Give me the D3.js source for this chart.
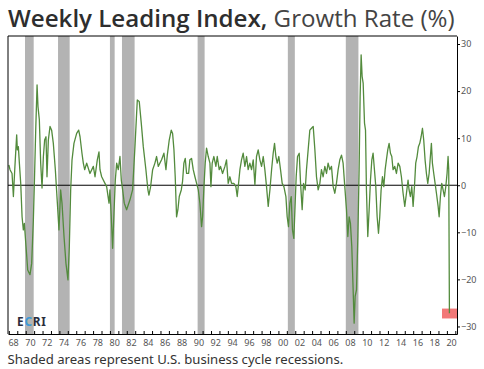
<!DOCTYPE html>
<html>
<head>
<meta charset="utf-8">
<script src="https://cdn.jsdelivr.net/npm/d3@7"></script>
<style>
  body { margin: 0; background: #fff; }
  svg { display: block; }
</style>
</head>
<body>
<script>
// weekly leading index growth rate [decimal year, %]
const wli = [
  [1968.00, 4.3], [1968.14, 3.3], [1968.38, 2.5], [1968.54, -2.4], [1968.70, 3.3], [1968.93, 10.7],
  [1969.01, 7.5], [1969.13, 8.2], [1969.25, 4.7], [1969.41, 0.4], [1969.57, -6.7], [1969.72, -9.5],
  [1969.84, -8.1], [1970.04, -13.0], [1970.24, -18.0], [1970.51, -19.0], [1970.71, -16.6], [1970.91, -7.4],
  [1971.03, 0.4], [1971.19, 11.7], [1971.35, 21.3], [1971.46, 16.7], [1971.62, 13.9], [1971.78, 4.7],
  [1971.94, -0.6], [1972.10, 6.1], [1972.25, 9.6], [1972.41, 10.3], [1972.53, 1.8], [1972.69, 9.6],
  [1972.89, 12.5], [1973.08, 11.7], [1973.28, 8.9], [1973.52, 3.3], [1973.76, -3.8], [1973.95, -9.5],
  [1974.15, -1.0], [1974.31, -3.8], [1974.55, -10.9], [1974.78, -16.6], [1975.02, -20.1], [1975.18, -13.0],
  [1975.34, -1.0], [1975.50, 5.4], [1975.73, 8.9], [1976.05, 11.0], [1976.29, 11.7], [1976.45, 10.3],
  [1976.68, 6.8], [1976.84, 4.7], [1977.00, 3.3], [1977.24, 4.7], [1977.63, 2.5], [1978.03, 4.0],
  [1978.23, 1.8], [1978.50, 5.4], [1978.70, 7.1], [1978.82, 3.3], [1979.02, 1.8], [1979.41, 0.4],
  [1979.61, -0.3], [1979.89, -3.8], [1980.00, -1.0], [1980.16, -6.7], [1980.32, -13.4], [1980.48, -5.9],
  [1980.64, 1.1], [1980.80, 4.7], [1980.99, 3.3], [1981.19, 6.1], [1981.35, 1.1], [1981.51, -1.0],
  [1981.70, -3.8], [1981.98, -5.2], [1982.38, -3.1], [1982.69, -1.0], [1982.97, 8.2], [1983.25, 18.1],
  [1983.48, 17.8], [1983.72, 13.2], [1983.96, 8.2], [1984.27, 3.3], [1984.51, -1.0], [1984.63, -2.1],
  [1984.83, -0.3], [1985.07, 3.3], [1985.34, 4.7], [1985.54, 6.1], [1985.74, 4.0],
  [1986.13, 5.4], [1986.41, 6.8], [1986.65, 3.3], [1986.81, 6.4], [1987.04, 9.6], [1987.28, 11.7],
  [1987.44, 11.0], [1987.60, 7.5], [1987.75, 1.8], [1987.91, -6.7], [1988.07, -5.2], [1988.23, -2.4],
  [1988.47, -1.0], [1988.62, 0.8], [1988.78, 4.7], [1988.94, 5.7], [1989.10, 2.5], [1989.34, 2.5],
  [1989.49, 5.4], [1989.69, 5.7], [1989.89, 3.3], [1990.09, 1.8], [1990.29, 0.4], [1990.49, -1.0],
  [1990.68, -3.8], [1990.88, -8.8], [1991.00, -6.7], [1991.16, -0.3], [1991.31, 4.7], [1991.47, 7.9],
  [1991.67, 6.1], [1991.87, 4.7], [1991.99, -0.3], [1992.14, 4.7], [1992.34, 6.1], [1992.58, 4.0],
  [1992.74, 6.1], [1992.97, 3.3], [1993.13, 4.0], [1993.37, 2.5], [1993.65, 4.0], [1993.84, 5.4],
  [1994.04, 0.4], [1994.24, 1.8], [1994.44, 0.4], [1994.71, 0.4], [1994.95, -0.3], [1995.11, -2.4],
  [1995.27, 0.4], [1995.43, 3.3], [1995.62, 5.4], [1995.82, 6.8], [1996.02, 4.0], [1996.22, 6.1],
  [1996.41, 3.3], [1996.61, 4.7], [1996.81, 3.3], [1997.01, 5.4], [1997.21, 0.1], [1997.40, 6.1],
  [1997.60, 7.5], [1997.80, 5.4], [1998.00, 4.0], [1998.20, 6.1], [1998.39, 3.3], [1998.59, -0.3],
  [1998.79, -4.5], [1998.99, -1.0], [1999.19, 3.3], [1999.38, 6.8], [1999.54, 8.9], [1999.70, 6.1],
  [1999.86, 4.7], [2000.05, 6.1], [2000.25, 3.3], [2000.45, 0.4], [2000.65, -0.3], [2000.89, -2.4],
  [2001.04, -6.7], [2001.20, -8.8], [2001.36, -3.8], [2001.52, -2.4], [2001.67, -9.5], [2001.83, -11.3],
  [2001.99, -3.8], [2002.11, 1.8], [2002.27, 6.1], [2002.47, 6.8], [2002.63, 0.4], [2002.82, -5.2],
  [2002.98, 0.4], [2003.18, -1.0], [2003.33, 3.3], [2003.53, 7.5], [2003.73, 11.7], [2003.93, 12.1],
  [2004.13, 12.5], [2004.33, 7.5], [2004.52, 1.8], [2004.72, -1.0],
  [2004.92, 0.4], [2005.11, 3.3], [2005.31, 1.8], [2005.51, 4.0], [2005.71, 2.5], [2005.90, 4.7],
  [2006.10, 3.3], [2006.30, 4.0], [2006.50, -0.3], [2006.70, -1.7], [2006.89, 0.4], [2007.09, 3.3],
  [2007.29, 5.4], [2007.49, 6.4], [2007.68, 4.7], [2007.88, -0.3], [2008.08, -5.2], [2008.24, -10.9],
  [2008.40, -6.7], [2008.55, -8.1], [2008.71, -13.0], [2008.87, -22.2], [2008.99, -29.3], [2009.11, -23.6],
  [2009.27, -22.2], [2009.43, -10.9], [2009.58, 3.3], [2009.70, 18.8], [2009.82, 27.7], [2009.94, 23.1],
  [2010.06, 21.7], [2010.22, 13.2], [2010.34, 11.7], [2010.45, -1.0], [2010.61, -10.9], [2010.77, -5.2],
  [2010.93, 1.1], [2011.09, 5.4], [2011.24, 6.8], [2011.40, 3.3], [2011.56, -0.3], [2011.72, -6.7],
  [2011.88, -10.2], [2012.03, -6.7], [2012.19, -1.0], [2012.35, 1.8], [2012.51, -0.3], [2012.67, 3.3],
  [2012.82, 5.4], [2012.98, 7.5], [2013.14, 8.9], [2013.30, 6.8], [2013.46, 6.1], [2013.61, 3.3],
  [2013.81, 4.0], [2014.01, 2.5], [2014.21, 4.7], [2014.41, 4.0], [2014.60, 1.8], [2014.80, -1.7],
  [2015.00, -4.5], [2015.20, -1.7], [2015.39, 1.1], [2015.51, -1.0], [2015.67, -2.4], [2015.83, -0.3],
  [2015.99, -4.5], [2016.15, -0.3], [2016.30, 4.7], [2016.46, 6.1], [2016.62, 8.2], [2016.78, 8.9],
  [2016.94, 10.3], [2017.10, 12.1], [2017.25, 9.6], [2017.41, 5.4], [2017.57, 2.5], [2017.73, 0.4],
  [2017.89, 2.5], [2018.04, 6.1], [2018.16, 8.9], [2018.28, 4.7], [2018.44, 2.5], [2018.60, 0.4],
  [2018.76, -1.7], [2018.96, -4.5], [2019.08, -6.7], [2019.23, -2.4], [2019.39, 0.4], [2019.55, -1.0],
  [2019.71, -2.4], [2019.87, -0.3], [2020.02, 2.5], [2020.14, 6.1], [2020.22, 3.3], [2020.30, -27.2]
];

// NBER recessions [start, end]
const recessions = [
  [1969.92, 1970.95], [1973.84, 1975.22], [1980.0, 1980.56], [1981.43, 1982.93],
  [1990.41, 1991.24], [2001.12, 2001.95], [2008.0, 2009.5]
];

const yTicks = [-30, -20, -10, 0, 10, 20, 30];
const yearTicks = d3.range(1968, 2022);
const yearLabels = d3.range(1968, 2021, 2);

// latest reading highlight
const latestBox = { x0: 2019.42, y0: -26.2, y1: -28.3 };

const W = 484, H = 369;
const L = 8, R = 457, T = 36, B = 334;
const font = "'Noto Sans', sans-serif";

const svg = d3.select("body").append("svg")
  .attr("width", W)
  .attr("height", H);

const x = d3.scaleLinear().domain([1967.9, 2021.2]).range([L, R]);
const y = d3.scaleLinear().domain([-31.6, 31.7]).range([B, T]);

// recession bars
svg.append("g").selectAll("rect")
  .data(recessions)
  .join("rect")
  .attr("x", d => x(d[0]))
  .attr("width", d => x(d[1]) - x(d[0]))
  .attr("y", T)
  .attr("height", B - T)
  .attr("fill", "#b3b3b3");

// latest box
svg.append("rect")
  .attr("x", x(latestBox.x0))
  .attr("width", R - x(latestBox.x0))
  .attr("y", y(latestBox.y0))
  .attr("height", y(latestBox.y1) - y(latestBox.y0))
  .attr("fill", "#f27878");

// zero line
svg.append("line")
  .attr("x1", L).attr("x2", R)
  .attr("y1", y(0)).attr("y2", y(0))
  .attr("stroke", "#000")
  .attr("stroke-width", 1);

// the series
const line = d3.line()
  .x(d => x(d[0]))
  .y(d => y(d[1]));

svg.append("path")
  .attr("d", line(wli))
  .attr("fill", "none")
  .attr("stroke", "#538b3d")
  .attr("stroke-width", 1.3)
  .attr("stroke-linejoin", "round");

// frame
svg.append("path")
  .attr("d", `M${L},${B}V${T}H${R}`)
  .attr("fill", "none")
  .attr("stroke", "#000")
  .attr("stroke-width", 1);

// right axis
const yAxis = svg.append("g")
  .attr("transform", `translate(${R},0)`)
  .call(d3.axisRight(y).tickValues(yTicks).tickSize(3).tickPadding(1).tickSizeOuter(0));
yAxis.select(".domain").attr("stroke", "#000");
yAxis.selectAll("text")
  .attr("font-family", font)
  .attr("font-size", 9)
  .attr("fill", "#555");

// bottom axis, year ticks pointing in
const xAxis = svg.append("g")
  .attr("transform", `translate(0,${B})`)
  .call(d3.axisBottom(x).tickValues(yearTicks).tickSize(-3).tickFormat("").tickSizeOuter(0));
xAxis.select(".domain").attr("stroke", "#000");

// year labels sit mid-year
const xLab = svg.append("g")
  .attr("transform", `translate(0,${B})`)
  .call(d3.axisBottom(x.copy().domain([1967.4, 2020.7]))
    .tickValues(yearLabels)
    .tickSize(0)
    .tickPadding(6)
    .tickFormat(d => String(d).slice(2)));
xLab.select(".domain").remove();
xLab.selectAll("text")
  .attr("font-family", font)
  .attr("font-size", 9)
  .attr("fill", "#555");

// title
const title = svg.append("text")
  .attr("x", L)
  .attr("y", 27)
  .attr("font-family", "'Open Sans', 'Noto Sans', sans-serif")
  .attr("font-size", 21)
  .attr("fill", "#333");
title.append("tspan").attr("font-weight", 600).attr("fill", "#2e2e2e").text("Weekly Leading Index,");
title.append("tspan").attr("font-weight", 400).attr("fill", "#444").text(" Growth Rate (%)");
let tw = title.node().getComputedTextLength();
title.attr("font-size", 21 * 447 / tw);

// footnote
const note = svg.append("text")
  .attr("x", L - 0.5)
  .attr("y", 364)
  .attr("font-family", font)
  .attr("font-size", 13)
  .attr("fill", "#333")
  .text("Shaded areas represent U.S. business cycle recessions.");
let nw = note.node().getComputedTextLength();
note.attr("font-size", 13 * 336 / nw);

// ECRI mark
const logo = svg.append("text")
  .attr("x", 17)
  .attr("y", 325.5)
  .attr("font-family", font)
  .attr("font-weight", 700)
  .attr("font-size", 11.8)
  .attr("letter-spacing", 0.8)
  .attr("fill", "#2a2d3c");
logo.append("tspan").text("E");
logo.append("tspan").attr("fill", "#3d9ad6").text("C");
logo.append("tspan").text("RI");
</script>
</body>
</html>
